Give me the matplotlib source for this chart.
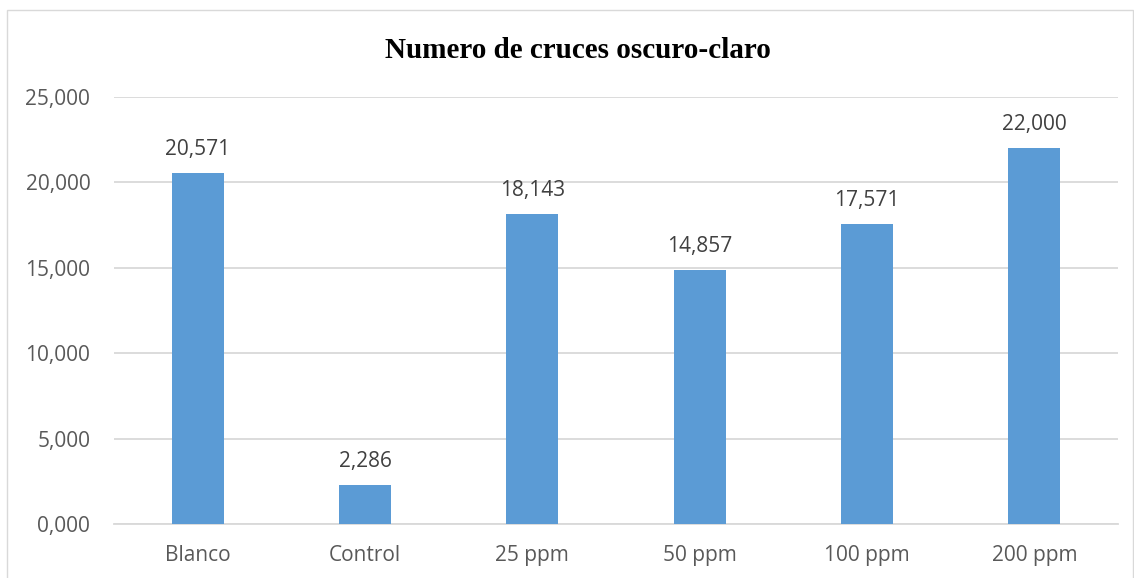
import matplotlib
matplotlib.use("agg")
import matplotlib.pyplot as plt
from matplotlib.patches import Rectangle

categories = ['Blanco', 'Control', '25 ppm', '50 ppm', '100 ppm', '200 ppm']
values = [20.571, 2.286, 18.143, 14.857, 17.571, 22.000]
yticks = [0, 5, 10, 15, 20, 25]


def fmt(v):
    # decimal comma, 3 decimals
    return ('%.3f' % v).replace('.', ',')


fig = plt.figure(figsize=(11.34, 5.78), dpi=100)
ax = fig.add_axes([0.1005, 0.0934, 0.8854, 0.7388])

# chart border (excel style)
fig.patches.append(Rectangle((7 / 1134, -0.01), 1 - 7 / 1134 - 0.0005, 1 - 10 / 578 + 0.01,
                             transform=fig.transFigure, fill=False,
                             edgecolor='#d9d9d9', lw=1.0))

x = range(len(categories))
bars = ax.bar(x, values, width=0.31, color='#5b9bd5', zorder=3)

for i, v in enumerate(values):
    ax.text(i, v + 0.75, fmt(v), ha='center', va='bottom',
            fontsize=15, color='#404040', family='Open Sans')

ax.set_ylim(0, 25)
ax.set_xlim(-0.5, len(categories) - 0.5)
ax.set_yticks(yticks)
ax.set_yticklabels([fmt(t) for t in yticks], family='Open Sans', fontsize=15, color='#595959')
ax.set_xticks(list(x))
ax.set_xticklabels(categories, family='Open Sans', fontsize=15, color='#595959')
ax.tick_params(axis='both', length=0)
ax.tick_params(axis='x', pad=15)
ax.tick_params(axis='y', pad=17)

ax.grid(axis='y', color='#d9d9d9', lw=1.3, zorder=0)
for s in ['top', 'right', 'left']:
    ax.spines[s].set_visible(False)
ax.spines['bottom'].set_color('#d9d9d9')
ax.spines['bottom'].set_linewidth(1.3)

fig.text(578 / 1134, 1 - 51 / 578, 'Numero de cruces oscuro-claro', ha='center', va='center',
         fontsize=21, fontweight='bold', family='Liberation Serif', color='black')

plt.savefig('out.png', dpi=100)
plt.close()
